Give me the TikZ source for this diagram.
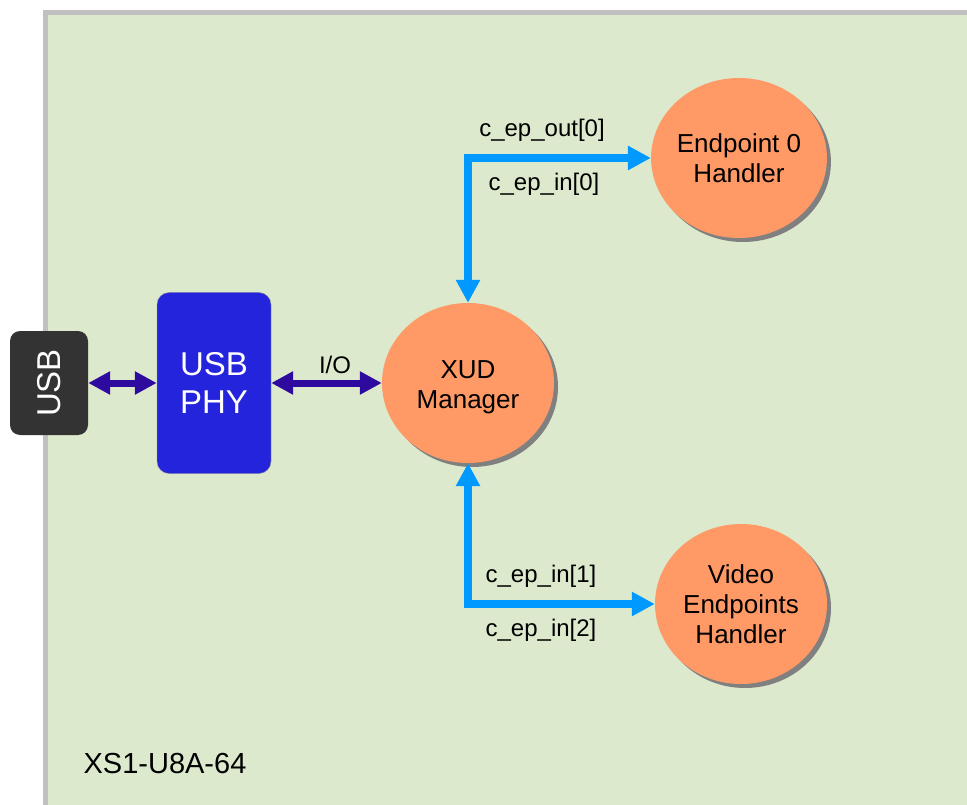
\documentclass[tikz,border=0pt]{standalone}
\usepackage{fontspec}
\setmainfont{Liberation Sans}
\usepackage{tikz}
\usetikzlibrary{shapes.geometric, arrows.meta, positioning, shadows}
\definecolor{chipcolor}{RGB}{221,233,205}
\definecolor{chipedge}{RGB}{192,192,192}
\definecolor{handlercolor}{RGB}{255,153,102}
\definecolor{phycolor}{RGB}{36,36,220}
\definecolor{buscolor}{RGB}{46,10,158}
\definecolor{chancolor}{RGB}{0,153,255}
\definecolor{portcolor}{RGB}{51,51,51}

\begin{document}
\begin{tikzpicture}[
    x=1pt, y=-1pt,
    handler/.style={ellipse, fill=handlercolor, inner sep=0pt, minimum width=172pt, minimum height=160pt, align=center, font=\fontsize{26}{30}\selectfont, drop shadow={shadow xshift=4pt, shadow yshift=-4pt, fill=black!50, opacity=1}},
    phybox/.style={draw=black!40, fill=phycolor, rounded corners=12pt, minimum width=114pt, minimum height=181pt, text=white, align=center, font=\fontsize{33}{38}\selectfont},
    portbox/.style={fill=portcolor, rounded corners=10pt, minimum width=78pt, minimum height=104pt},
    chanlabel/.style={font=\fontsize{24}{28}\selectfont},
    bus/.style={{Triangle[length=22pt, width=22pt]}-{Triangle[length=22pt, width=22pt]}, line width=7pt, buscolor},
    chan/.style={{Triangle[length=23pt, width=23pt]}-{Triangle[length=23pt, width=23pt]}, line width=7.5pt, chancolor}
]
    \useasboundingbox (0,0) rectangle (967,805);
    \clip (0,0) rectangle (967,805);
    \draw[line width=5pt, draw=chipedge, fill=chipcolor] (45.5,12.5) rectangle (1100,900);
    \node[font=\fontsize{29}{33}\selectfont] (chipname) at (165,764) {XS1-U8A-64};

    \node[portbox] (usb) at (49,383) {};
    \node[rotate=90, text=white, font=\fontsize{33}{38}\selectfont] (usbtext) at (usb.center) {USB};
    \node[phybox] (phy) at (214,383) {USB\\PHY};
    \node[handler] (xud) at (468,383) {};
    \node[align=center, font=\fontsize{26}{30}\selectfont] (xudtext) at (468,387) {XUD\\Manager};
    \node[handler] (ep0) at (739,158) {Endpoint 0\\Handler};
    \node[handler] (video) at (741,604) {Video\\Endpoints\\Handler};

    \draw[bus] (usb.east) -- (phy.west);
    \draw[bus] (phy.east) -- (xud.west);
    \node[chanlabel] (io) at (335,365) {I/O};

    \draw[chan] (xud.north) |- (ep0.west);
    \draw[chan] (xud.south) |- (video.west);

    \node[chanlabel] (outzero) at (542,130) {c\_ep\_out[0]};
    \node[chanlabel] (inzero) at (544,184) {c\_ep\_in[0]};
    \node[chanlabel] (inone) at (541,576) {c\_ep\_in[1]};
    \node[chanlabel] (intwo) at (541,630) {c\_ep\_in[2]};
\end{tikzpicture}
\end{document}
